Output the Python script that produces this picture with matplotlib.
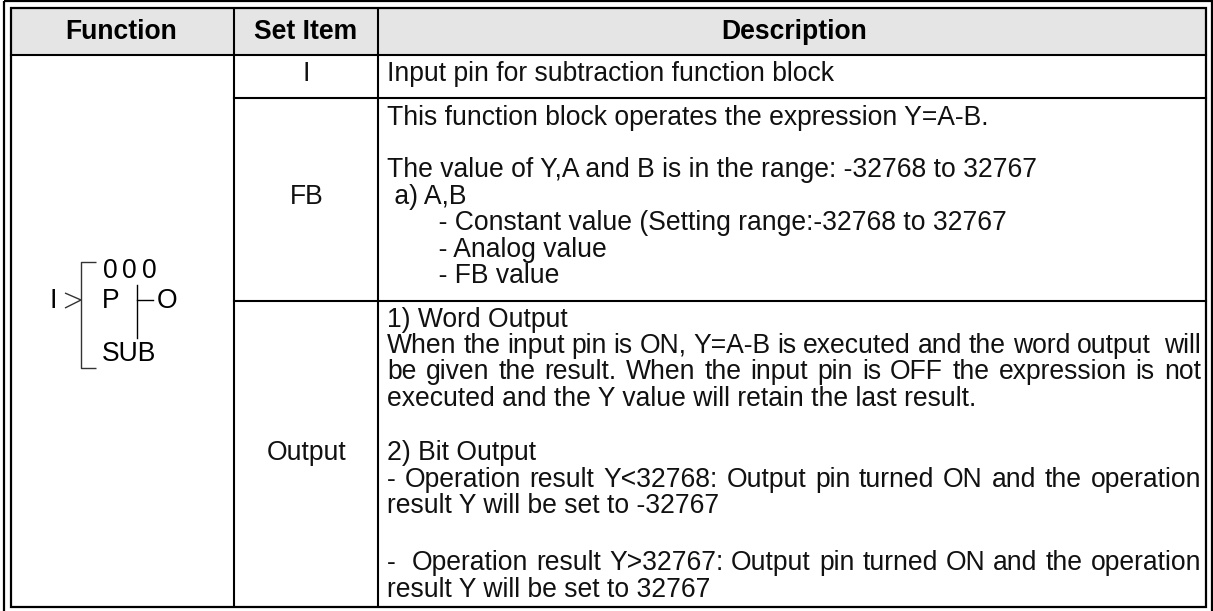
"""
Function block description table for the SUB block
"""
import matplotlib
matplotlib.use('Agg')
import matplotlib.pyplot as plt
from matplotlib.patches import Rectangle

headers = ['Function', 'Set Item', 'Description']
set_items = ['I', 'FB', 'Output']

# (text, justified to the cell edge or not)
input_lines = [('Input pin for subtraction function block', False)]
fb_lines = [
    ('This function block operates the expression Y=A-B.', False),
    ('', False),
    ('The value of Y,A and B is in the range: -32768 to 32767', False),
    (' a) A,B', False),
    ('       - Constant value (Setting range:-32768 to 32767', False),
    ('       - Analog value', False),
    ('       - FB value', False),
]
output_lines = [
    ('1) Word Output', False),
    ('When the input pin is ON, Y=A-B is executed and the word output  will', True),
    ('be given the result. When the input pin is OFF the expression is not', True),
    ('executed and the Y value will retain the last result.', False),
    ('', False),
    ('2) Bit Output', False),
    ('- Operation result Y<32768: Output pin turned ON and the operation', True),
    ('result Y will be set to -32767', False),
    ('', False),
    ('-  Operation result Y>32767: Output pin turned ON and the operation', True),
    ('result Y will be set to 32767', False),
]

W, H = 1213, 611
COL1, COL2 = 234, 378
LEFT, RIGHT, TOP, BOTTOM = 11, 1206, 8, 607
ROW_HEAD, ROW_I, ROW_FB = 54.5, 98, 301
TEXT_X, TEXT_END = 387, 1201
FONT = 'Liberation Sans'
SIZE = 19.1
INK = '#111111'

fig = plt.figure(figsize=(W / 100, H / 100), dpi=100)
ax = fig.add_axes([0, 0, 1, 1])
ax.set_xlim(0, W)
ax.set_ylim(H, 0)
ax.axis('off')

# header band
ax.add_patch(Rectangle((LEFT, TOP), RIGHT - LEFT, ROW_HEAD - TOP, color='#e5e5e5', lw=0))

# outer frame has no visible bottom edge, it runs off the picture
ax.add_patch(Rectangle((4, 0.5), 1207.5, 620, fill=False, ec='black', lw=1.6))
ax.add_patch(Rectangle((LEFT, TOP), RIGHT - LEFT, BOTTOM - TOP, fill=False, ec='black', lw=1.6))

# cell rules
for x in (COL1, COL2):
    ax.plot([x, x], [TOP, BOTTOM], color='black', lw=1.5, solid_capstyle='butt')
ax.plot([LEFT, RIGHT], [ROW_HEAD, ROW_HEAD], color='black', lw=1.5)
for y in (ROW_I, ROW_FB):
    ax.plot([COL1, RIGHT], [y, y], color='black', lw=1.5)

# headers
for label, cx in zip(headers, [121, 306, 794]):
    ax.text(cx, 39, label, family=FONT, size=SIZE, weight='bold', ha='center', va='baseline')

# set item column
for label, y in zip(set_items, [81, 203.5, 459.5]):
    ax.text(306.5, y, label, family=FONT, size=SIZE, ha='center', va='baseline', color=INK)

renderer = fig.canvas.get_renderer()


def text_width(s):
    if not s:
        return 0
    t = ax.text(0, 0, s, family=FONT, size=SIZE)
    w = t.get_window_extent(renderer).width
    t.remove()
    return w


def draw_line(s, y, justified):
    # justified lines get their spare width shared between the spaces
    if not justified:
        ax.text(TEXT_X, y, s, family=FONT, size=SIZE, va='baseline', color=INK)
        return
    words = s.split(' ')
    widths = [text_width(w) for w in words]
    gap = (TEXT_END - TEXT_X - sum(widths)) / (len(words) - 1)
    x = TEXT_X
    for word, w in zip(words, widths):
        if word:
            ax.text(x, y, word, family=FONT, size=SIZE, va='baseline', color=INK)
        x += w + gap


draw_line(input_lines[0][0], 81, input_lines[0][1])
for (s, j), y in zip(fb_lines, [125, 151, 177, 204, 230, 257, 283]):
    draw_line(s, y, j)
for (s, j), y in zip(output_lines, [327, 353, 379, 406, 433, 459.5, 487, 513, 543, 570, 597]):
    draw_line(s, y, j)

# block symbol
sym = dict(color='#333333', lw=1.0, solid_capstyle='butt')
ax.plot([96, 81, 81, 96], [262, 262, 368, 368], **sym)
ax.plot([65, 81, 65], [293, 300, 308], **sym)
ax.plot([137, 137], [285, 338], color='black', lw=1.0)
ax.plot([137, 153], [300, 300], color='black', lw=1.0)
ax.text(53, 308, 'I', family=FONT, size=SIZE, ha='center', va='baseline')
for digit, x in zip('000', [110, 129.5, 149]):
    ax.text(x, 278, digit, family=FONT, size=SIZE, ha='center', va='baseline')
ax.text(110.5, 308, 'P', family=FONT, size=SIZE, ha='center', va='baseline')
ax.text(167.5, 308, 'O', family=FONT, size=SIZE, ha='center', va='baseline')
ax.text(129.5, 361, 'SUB', family=FONT, size=SIZE, ha='center', va='baseline')

fig.savefig('out.png', dpi=100)
plt.close(fig)
